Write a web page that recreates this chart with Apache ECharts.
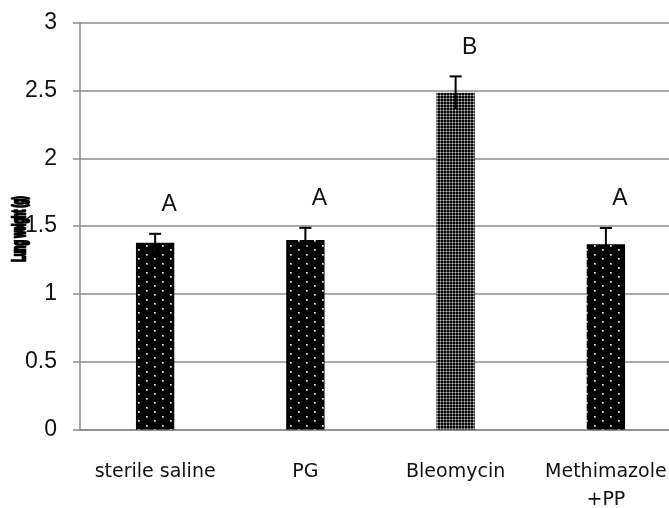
<!DOCTYPE html>
<html>
<head>
<meta charset="utf-8">
<script src="https://cdn.jsdelivr.net/npm/echarts@6/dist/echarts.min.js"></script>
<style>html,body{margin:0;padding:0;background:#fff;}#c{width:669px;height:508px;}</style>
</head>
<body>
<div id="c"></div>
<script>
var categories = ['sterile saline', 'PG', 'Bleomycin', 'Methimazole\n+PP'];
var values = [1.378, 1.397, 2.484, 1.366];
var errors = [0.065, 0.09, 0.12, 0.12];
var letters = ['A', 'A', 'B', 'A'];
var patternKind = ['dots', 'dots', 'mesh', 'dots'];
var yTicks = [0, 0.5, 1, 1.5, 2, 2.5, 3];
var yName = 'Lung weight (g)';

function makeDots() {
  var c = document.createElement('canvas');
  c.width = 16; c.height = 9;
  var x = c.getContext('2d');
  x.fillStyle = '#000'; x.fillRect(0, 0, 16, 9);
  x.fillStyle = '#888';
  x.fillRect(2, 2, 2, 2); x.fillRect(10, 6, 2, 2);
  x.fillStyle = '#fff';
  x.fillRect(2, 2, 1, 1); x.fillRect(10, 6, 1, 1);
  return c;
}
function makeMesh() {
  var c = document.createElement('canvas');
  c.width = 3; c.height = 3;
  var x = c.getContext('2d');
  x.fillStyle = '#5f5f5f'; x.fillRect(0, 0, 3, 3);
  x.fillStyle = '#080808'; x.fillRect(0, 0, 2, 2);
  x.fillStyle = '#c8c8c8'; x.fillRect(2, 2, 1, 1);
  return c;
}
var pats = { dots: makeDots(), mesh: makeMesh() };

var chart = echarts.init(document.getElementById('c'));
var barData = values.map(function (v, i) {
  return { value: v, itemStyle: { color: { image: pats[patternKind[i]], repeat: 'repeat' } } };
});
var errData = values.map(function (v, i) { return [i, v - errors[i], v + errors[i], letters[i]]; });

chart.setOption({
  animation: false,
  backgroundColor: '#fff',
  grid: { left: 80, width: 601, top: 22.7, bottom: 78.5, containLabel: false, outerBoundsMode: 'none' },
  xAxis: {
    type: 'category',
    data: categories,
    axisLine: { show: true, lineStyle: { color: '#8c8c8c', width: 1.5 } },
    axisTick: { show: false },
    axisLabel: { color: '#111', fontFamily: 'DejaVu Sans', fontSize: 19, margin: 29, lineHeight: 28, interval: 0 }
  },
  yAxis: {
    type: 'value',
    min: 0, max: 3, interval: 0.5,
    axisLine: { show: true, lineStyle: { color: '#8c8c8c', width: 1.5 } },
    axisTick: { show: true, length: 7, lineStyle: { color: '#8c8c8c', width: 1.5 } },
    splitLine: { show: true, lineStyle: { color: '#8c8c8c', width: 1.5 } },
    axisLabel: {
      color: '#111', fontFamily: 'Liberation Sans', fontSize: 23, margin: 23,
      formatter: function (v) { return yTicks.indexOf(v) >= 0 ? String(v) : ''; }
    }
  },
  graphic: [{
    type: 'text',
    x: 20, y: 229,
    rotation: Math.PI / 2,
    scaleX: 0.8, scaleY: 1.6,
    style: {
      text: yName, fontFamily: 'Liberation Sans', fontWeight: 'bold', fontSize: 11,
      fill: '#000', stroke: '#000', lineWidth: 1.6, align: 'center', verticalAlign: 'middle'
    }
  }],
  series: [
    {
      type: 'bar',
      data: barData,
      barWidth: '25.5%',
      z: 2
    },
    {
      type: 'custom',
      z: 5,
      data: errData,
      renderItem: function (params, api) {
        var i = api.value(0);
        var lo = api.coord([i, api.value(1)]);
        var hi = api.coord([i, api.value(2)]);
        var cap = 6;
        return {
          type: 'group',
          children: [
            { type: 'line', shape: { x1: hi[0], y1: lo[1], x2: hi[0], y2: hi[1] }, style: { stroke: '#000', lineWidth: 2 } },
            { type: 'line', shape: { x1: hi[0] - cap, y1: hi[1], x2: hi[0] + cap, y2: hi[1] }, style: { stroke: '#000', lineWidth: 2 } },
            { type: 'text', x: hi[0] + 14, y: hi[1] - 29, style: { text: api.value(3), fontFamily: 'Liberation Sans', fontSize: 23, fill: '#111', align: 'center', verticalAlign: 'middle' } }
          ]
        };
      }
    }
  ]
});
</script>
</body>
</html>
